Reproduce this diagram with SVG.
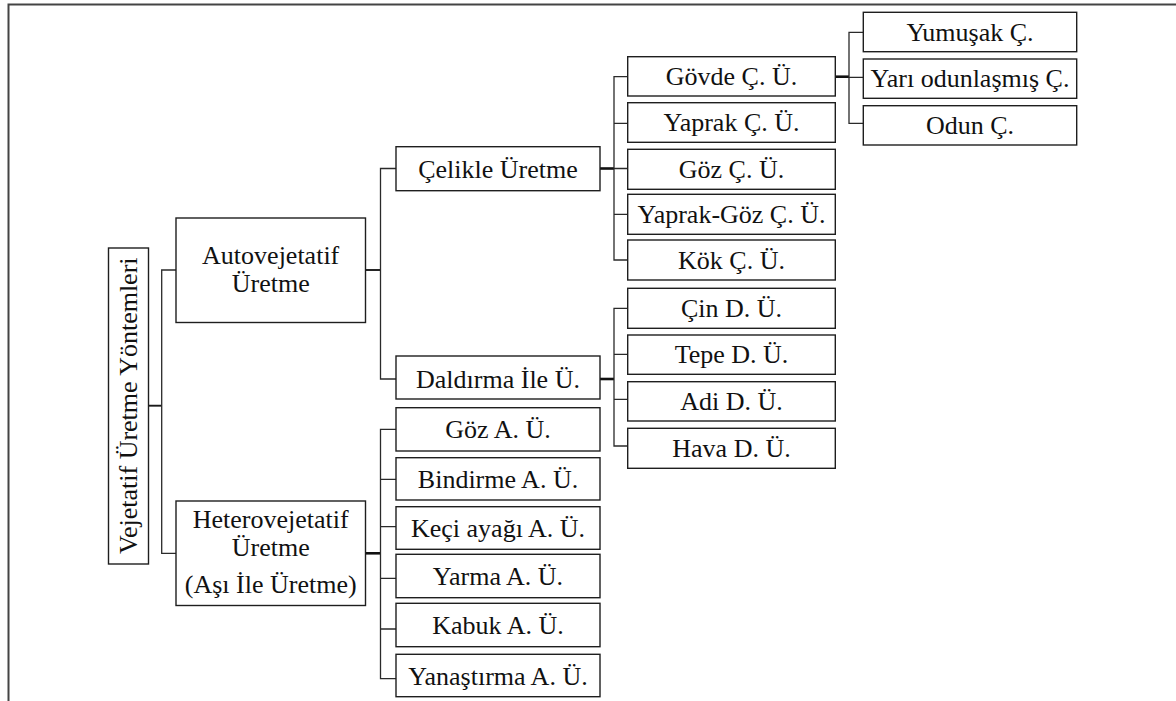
<svg xmlns="http://www.w3.org/2000/svg" width="1176" height="701" viewBox="0 0 1176 701">
<style>
.box{fill:#fff;stroke:#1e1e1e;stroke-width:1.4}
.t{font-family:"Liberation Serif","Times New Roman",serif;font-size:26px;fill:#111;text-anchor:middle}
.c{fill:none;stroke:#2a2a2a;stroke-width:1.3}
.ck{fill:none;stroke:#111;stroke-width:2.6}
.cm{fill:none;stroke:#1a1a1a;stroke-width:1.9}
</style>
<rect width="1176" height="701" fill="#fff"/>
<path d="M8.5,701 V4.5 H1176" fill="none" stroke="#444" stroke-width="2"/>
<g id="connectors">
<path class="cm" d="M148.5,405.7 H161.7"/>
<path class="c" d="M176,270 H161.7 V553.3 H176"/>
<path class="cm" d="M365.5,270 H380.5"/>
<path class="c" d="M396,168.5 H380.5 V379 H396"/>
<path class="ck" d="M600,168.5 H614"/>
<path class="c" d="M627.7,76.7 H614 V260 H627.7 M614,123.3 H627.7 M614,168.5 H627.7 M614,214.3 H627.7"/>
<path class="ck" d="M835.3,76.7 H849"/>
<path class="c" d="M863.3,32.3 H849 V123.3 H863.3 M849,77.3 H863.3"/>
<path class="ck" d="M600,379 H614"/>
<path class="c" d="M627.7,308.3 H614 V446 H627.7 M614,354.3 H627.7 M614,399.3 H627.7"/>
<path class="ck" d="M365.5,553.3 H380.5"/>
<path class="c" d="M396,429.3 H380.5 V678.7 H396 M380.5,479.3 H396 M380.5,526.7 H396 M380.5,578.3 H396 M380.5,629 H396"/>
</g>
<g id="root">
<rect class="box" x="108.5" y="248" width="40" height="316"/>
<text class="t" transform="translate(137,405.7) rotate(-90)">Vejetatif Üretme Yöntemleri</text>
</g>
<g id="auto">
<rect class="box" x="176" y="218" width="189.5" height="104.5"/>
<text class="t" x="270.7" y="264">Autovejetatif</text>
<text class="t" x="270.7" y="291.5">Üretme</text>
</g>
<g id="hetero">
<rect class="box" x="176" y="501" width="189.5" height="104.5"/>
<text class="t" x="270.7" y="528.3">Heterovejetatif</text>
<text class="t" x="270.7" y="555.7">Üretme</text>
<text class="t" x="270.7" y="593.3">(Aşı İle Üretme)</text>
</g>
<g id="celikle">
<rect class="box" x="396" y="146.7" width="204" height="44"/>
<text class="t" x="498" y="177.5">Çelikle Üretme</text>
</g>
<g id="daldirma">
<rect class="box" x="396" y="356" width="204" height="43"/>
<text class="t" x="498" y="387.5">Daldırma İle Ü.</text>
</g>
<g id="goz-a">
<rect class="box" x="396" y="407.7" width="204" height="43.3"/>
<text class="t" x="498" y="438">Göz A. Ü.</text>
</g>
<g id="bindirme-a">
<rect class="box" x="396" y="457.7" width="204" height="42.3"/>
<text class="t" x="498" y="488">Bindirme A. Ü.</text>
</g>
<g id="keci-a">
<rect class="box" x="396" y="506.7" width="204" height="42.6"/>
<text class="t" x="498" y="537">Keçi ayağı A. Ü.</text>
</g>
<g id="yarma-a">
<rect class="box" x="396" y="554.3" width="204" height="43.4"/>
<text class="t" x="498" y="585">Yarma A. Ü.</text>
</g>
<g id="kabuk-a">
<rect class="box" x="396" y="603.3" width="204" height="43.4"/>
<text class="t" x="498" y="634">Kabuk A. Ü.</text>
</g>
<g id="yanastirma-a">
<rect class="box" x="396" y="654.3" width="204" height="42.4"/>
<text class="t" x="498" y="684.5">Yanaştırma A. Ü.</text>
</g>
<g id="govde-c">
<rect class="box" x="627.7" y="56.7" width="207.6" height="39.3"/>
<text class="t" x="731.5" y="85">Gövde Ç. Ü.</text>
</g>
<g id="yaprak-c">
<rect class="box" x="627.7" y="102.7" width="207.6" height="39.6"/>
<text class="t" x="731.5" y="131.3">Yaprak Ç. Ü.</text>
</g>
<g id="goz-c">
<rect class="box" x="627.7" y="149.3" width="207.6" height="40"/>
<text class="t" x="731.5" y="177.8">Göz Ç. Ü.</text>
</g>
<g id="yaprakgoz-c">
<rect class="box" x="627.7" y="194.3" width="207.6" height="40"/>
<text class="t" x="731.5" y="222.8">Yaprak-Göz Ç. Ü.</text>
</g>
<g id="kok-c">
<rect class="box" x="627.7" y="240" width="207.6" height="40"/>
<text class="t" x="731.5" y="268.5">Kök Ç. Ü.</text>
</g>
<g id="cin-d">
<rect class="box" x="627.7" y="288.3" width="207.6" height="40"/>
<text class="t" x="731.5" y="316.8">Çin D. Ü.</text>
</g>
<g id="tepe-d">
<rect class="box" x="627.7" y="335" width="207.6" height="39.3"/>
<text class="t" x="731.5" y="363.3">Tepe D. Ü.</text>
</g>
<g id="adi-d">
<rect class="box" x="627.7" y="381.7" width="207.6" height="39.3"/>
<text class="t" x="731.5" y="410">Adi D. Ü.</text>
</g>
<g id="hava-d">
<rect class="box" x="627.7" y="428.3" width="207.6" height="40"/>
<text class="t" x="731.5" y="456.8">Hava D. Ü.</text>
</g>
<g id="yumusak">
<rect class="box" x="863.3" y="12.3" width="213.4" height="39.4"/>
<text class="t" x="970" y="40.7">Yumuşak Ç.</text>
</g>
<g id="yari-odun">
<rect class="box" x="863.3" y="59" width="213.4" height="39.3"/>
<text class="t" x="970" y="87.3">Yarı odunlaşmış Ç.</text>
</g>
<g id="odun">
<rect class="box" x="863.3" y="105.7" width="213.4" height="39.3"/>
<text class="t" x="970" y="134">Odun Ç.</text>
</g>
</svg>
